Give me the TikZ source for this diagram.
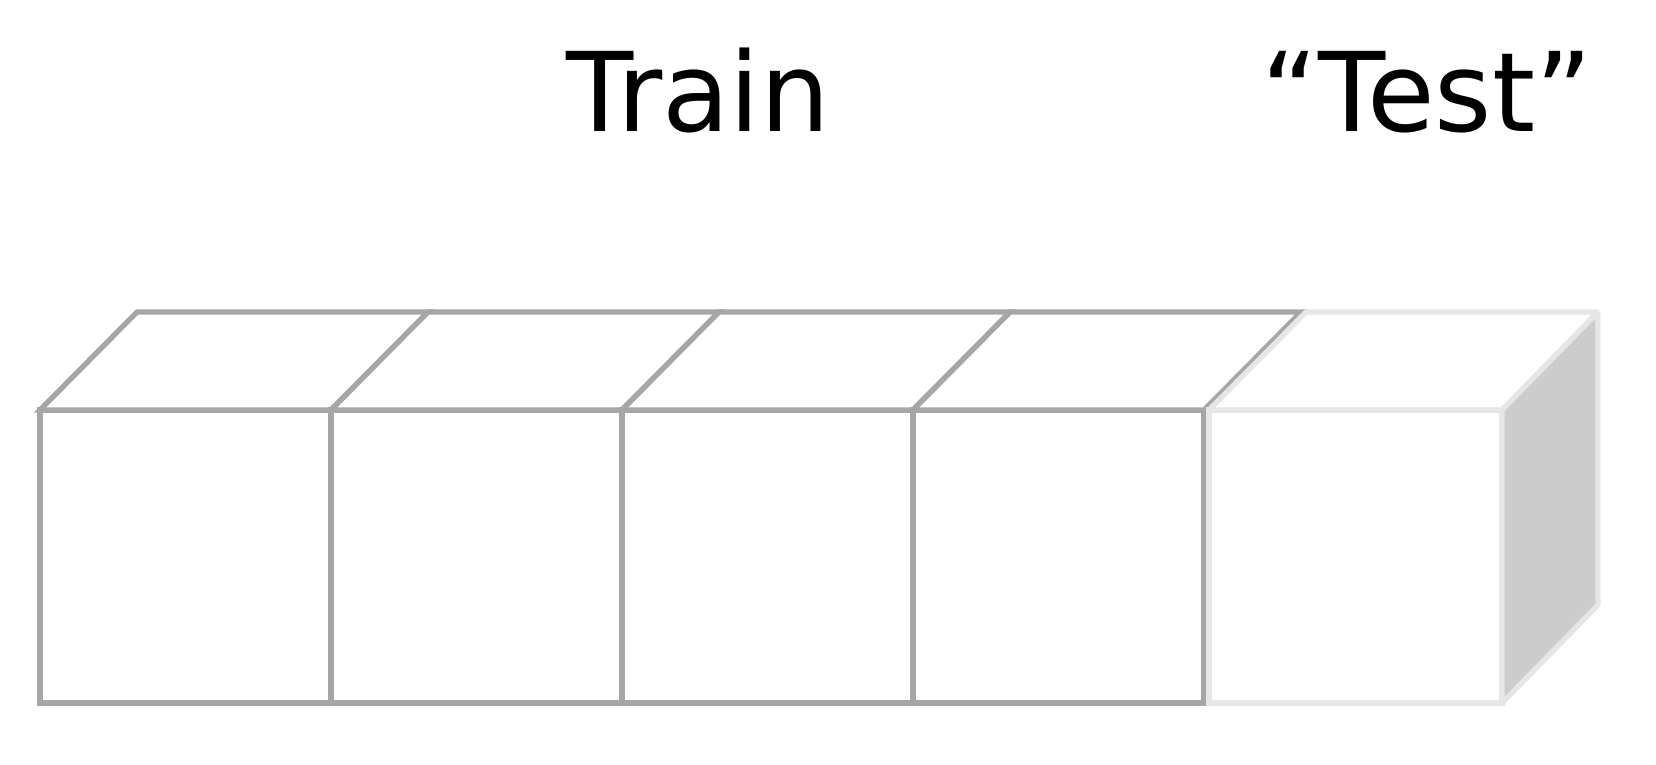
\documentclass[tikz,border=0pt]{standalone}
\usepackage{fontspec}
\setmainfont{DejaVu Sans}
\usetikzlibrary{positioning}
\definecolor{edgegray}{HTML}{A6A6A6}
\definecolor{edgelight}{HTML}{E6E6E6}
\definecolor{sidegray}{HTML}{CCCCCC}

\begin{document}
\begin{tikzpicture}[x=1pt, y=1pt, line width=5.3pt,
    trainedge/.style={draw=edgegray, fill=white},
    testedge/.style={draw=edgelight, fill=white},
    label text/.style={font=\fontsize{110}{120}\selectfont, inner sep=0pt, anchor=base}]
  \useasboundingbox (0,0) rectangle (1656,764);
  % train folds
  \foreach \i in {0,...,3} {
    \pgfmathsetmacro{\xl}{40+291*\i}
    \draw[trainedge] (\xl,61) rectangle ++(291,293);
    \draw[trainedge] (\xl,354) -- ++(97,98) -- ++(291,0) -- ++(-97,-98) -- cycle;
  }
  % test fold
  \draw[testedge] (1209,61) rectangle (1502,354);
  \draw[testedge, line join=bevel] (1209,354) -- (1306,452) -- (1598,452) -- (1502,354) -- cycle;
  \draw[testedge, line join=bevel, fill=sidegray] (1502,61) -- (1598,159) -- (1598,452) -- (1502,354) -- cycle;
  \node[label text] (train) at (698,632) {Train};
  \node[label text] (test) at (1427,632) {“Test”};
\end{tikzpicture}
\end{document}
